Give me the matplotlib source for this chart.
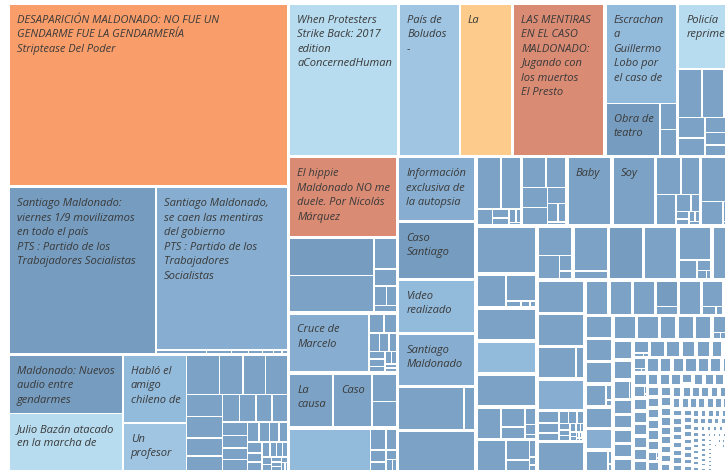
import matplotlib
matplotlib.use("Agg")
import matplotlib.pyplot as plt
from matplotlib.patches import Rectangle

# ---------------- data (sizes) ----------------
g_striptease = [50600]
g_pts = [24390, 21440, 180, 90, 60, 50, 40, 30, 20]
g_mixed = [6640, 6580, 4350, 3050, 1300, 930, 880, 880, 800, 770, 670, 530, 460,
           450, 440, 430, 340, 320, 290, 280, 230, 215, 190, 170, 160, 135, 125,
           115, 100, 90, 80, 70, 60, 50, 45, 40, 35, 28, 22]
g_concerned = [16575]
g_boludos = [9300, 7950]
g_presto = [13950]
g_escrache = [7200, 2900, 450, 450]
g_policia = [4400, 1150, 1100, 1050, 550, 480, 420, 350, 300, 250, 150, 110]
g_hippie = [8700]
g_a = [3200, 3200, 700, 400, 250, 200, 150]
g_cruce = [4800, 300, 250, 200, 180, 150, 130, 120, 100, 80, 70, 50, 50]
g_causa = [2400, 2150, 700, 650]
g_bottom = [3550, 330, 240, 190, 140, 110, 80, 50]
g_info = [4970]
g_caso = [4470]
g_video = [4160]
g_santiago = [4080]
g_b1 = [2900, 490]
g_b2 = [3160]
g_r1 = [1320, 1055, 265, 160, 125, 95, 65, 30]
g_r2 = [740, 635, 530, 475, 315, 210, 160, 60]
g_baby = [3080]
g_soy = [2960]
g_r5 = [950, 740, 635, 265, 160, 105, 85, 65, 50, 40]
g_r6 = [1160, 845, 530, 315, 160, 85]

c_striptease = ['O']
c_pts = ['D', 'M']
c_mixed = ['D', 'L', 'Q', 'P']
c_concerned = ['L']
c_boludos = ['P', 'Y']
c_presto = ['S']
c_escrache = ['Q', 'D']
c_policia = ['L']
c_hippie = ['S']
c_a = ['D', 'B']
c_cruce = ['M']
c_causa = ['B', 'B']
c_bottom = ['Q']
c_info = ['M']
c_caso = ['D']
c_video = ['Q']
c_santiago = ['M']

l_striptease = ["DESAPARICIÓN MALDONADO: NO FUE UN\nGENDARME FUE LA GENDARMERÍA\nStriptease Del Poder"]
l_pts = ["Santiago Maldonado:\nviernes 1/9 movilizamos\nen todo el país\nPTS : Partido de los\nTrabajadores Socialistas",
         "Santiago Maldonado,\nse caen las mentiras\ndel gobierno\nPTS : Partido de los\nTrabajadores\nSocialistas"]
l_mixed = ["Maldonado: Nuevos\naudio entre\ngendarmes", "Julio Bazán atacado\nen la marcha de",
           "Habló el\namigo\nchileno de", "Un\nprofesor"]
l_concerned = ["When Protesters\nStrike Back: 2017\nedition\naConcernedHuman"]
l_boludos = ["País de\nBoludos\n-", "La"]
l_presto = ["LAS MENTIRAS\nEN EL CASO\nMALDONADO:\nJugando con\nlos muertos\nEl Presto"]
l_escrache = ["Escrachan\na\nGuillermo\nLobo por\nel caso de", "Obra de\nteatro"]
l_policia = ["Policía\nreprime"]
l_hippie = ["El hippie\nMaldonado NO me\nduele. Por Nicolás\nMárquez"]
l_cruce = ["Cruce de\nMarcelo"]
l_causa = ["La\ncausa", "Caso"]
l_info = ["Información\nexclusiva de\nla autopsia"]
l_caso = ["Caso\nSantiago"]
l_video = ["Video\nrealizado"]
l_santiago = ["Santiago\nMaldonado"]
l_baby = ["Baby"]
l_soy = ["Soy"]

tail_s6 = [[2900], [1000, 850, 100, 60, 40], [2000], [1990], [1980],
           [800, 500, 300, 200, 120, 50], [950, 500, 280, 120, 60, 40]]
tail_s7 = [[1050, 530, 210, 110], [1580, 290], [1850], [1830],
           [1150, 370, 160, 85, 45], [1790]]
tail_s8 = [[1580], [1550], [1260, 260], [1490],
           [260, 220, 175, 130, 110, 90, 82, 72, 60, 55, 44, 35, 28, 28, 18, 18, 13, 9, 9, 4],
           [1420]]
tail_s9 = [[830], [820], [810], [620, 180], [790], [600, 120, 60], [770]]
tail_s10 = [[640], [630], [620], [480, 100, 40], [600], [590], [500, 60, 30], [570], [560]]
tail_s11 = [[430], [425], [420], [300, 60, 40, 15, 5], [410], [405], [400], [330, 60]]
tail_s12 = [[300], [295], [290], [285], [280], [220, 40, 20], [275], [270], [265], [260]]
tail_s13 = [[205], [200], [198], [150, 30, 15], [195], [192], [190], [188], [185]]
tail_s13b = [[183], [182], [181], [180], [150, 20, 8], [178], [177], [176], [175], [174]]
tail_s14 = [[155], [152], [150], [148], [120, 20, 6], [145], [143], [140], [138], [136]]
tail_s14b = [[134], [133], [132], [131], [130], [129], [100, 20, 8], [127], [126], [125]]
tail_s15 = [[118], [116], [114], [112], [110], [108], [90, 12, 4], [106], [104], [102]]
tail_s15b = [[101], [100], [99], [99], [98], [97], [97], [96], [95], [95]]
tail_small = [92, 90, 89, 88, 86, 85, 84, 82, 81, 80, 79, 78,
              72, 71, 70, 69, 68, 67, 66, 65, 64, 63, 62, 61,
              56, 55, 55, 54, 53, 53, 52, 51, 50, 50, 49, 48, 48, 47,
              44, 43, 43, 42, 42, 41, 41, 40, 40, 39, 39, 38, 38, 37, 37, 36,
              34, 33, 33, 32, 32, 31, 31, 30, 30, 29, 29, 29, 28, 28, 27, 27, 26, 26,
              25, 25, 24, 24, 24, 23, 23, 23, 22, 22, 22, 21, 21, 21, 20, 20, 20, 19, 19, 19, 18, 18,
              17, 17, 17, 16, 16, 16, 16, 15, 15, 15, 15, 14, 14, 14, 14, 13, 13, 13, 13, 12, 12, 12, 12, 11, 11, 11,
              11, 10, 10, 10, 10, 10, 9, 9, 9, 9, 9, 9, 8, 8, 8, 8, 8, 8, 7, 7, 7, 7, 7, 7, 6, 6, 6, 6, 6, 6,
              5, 5, 5, 5, 5, 5, 5, 5, 5, 5, 4, 4, 4, 4, 4, 4, 4, 4, 4, 4,
              3, 3, 3, 3, 3, 3, 3, 3, 3, 3, 2, 2, 2, 2, 2, 2, 2, 2, 2, 2]

PALETTE = {'O': '#F99E6B', 'S': '#D98B74', 'Y': '#FDCB8B', 'L': '#B7DCEF',
           'P': '#9FC5E3', 'Q': '#92BADB', 'M': '#87AED0', 'B': '#7CA3C6',
           'D': '#769DC0'}

# ---------------- assemble groups ----------------
head = [
    (g_striptease, c_striptease, l_striptease),
    (g_pts, c_pts, l_pts),
    (g_mixed, c_mixed, l_mixed),
    (g_concerned, c_concerned, l_concerned),
    (g_boludos, c_boludos, l_boludos),
    (g_presto, c_presto, l_presto),
    (g_escrache, c_escrache, l_escrache),
    (g_policia, c_policia, l_policia),
    (g_hippie, c_hippie, l_hippie),
    (g_a, c_a, []),
    (g_cruce, c_cruce, l_cruce),
    (g_causa, c_causa, l_causa),
    (g_bottom, c_bottom, []),
    (g_info, c_info, l_info),
    (g_caso, c_caso, l_caso),
    (g_video, c_video, l_video),
    (g_santiago, c_santiago, l_santiago),
    (g_b1, [], []),
    (g_b2, [], []),
    (g_r1, [], []),
    (g_r2, [], []),
    (g_baby, [], l_baby),
    (g_soy, [], l_soy),
    (g_r5, [], []),
    (g_r6, [], []),
]
groups = list(head)
for band in [tail_s6, tail_s7, tail_s8, tail_s9, tail_s10, tail_s11, tail_s12,
             tail_s13, tail_s13b, tail_s14, tail_s14b, tail_s15, tail_s15b]:
    for g in band:
        groups.append((g, [], []))
for v in tail_small:
    groups.append(([v], [], []))
# a few tail tiles with a slightly different shade
TAIL_SHADE = {len(head) + 3: 'Q', len(head) + 9: 'D', len(head) + 16: 'M',
              len(head) + 22: 'D', len(head) + 31: 'M'}


# ---------------- squarified layout (Tableau-like strip rule) ----------------
def worst(row, side):
    s = sum(row)
    t = s / side
    r = 1.0
    for a in row:
        l = a / t
        r = max(r, t / l, l / t)
    return r


def squarify(values, x, y, w, h, cap=3.0):
    total = float(sum(values))
    areas = [v * w * h / total for v in values]
    out = []
    i, n = 0, len(areas)
    while i < n:
        side = min(w, h)
        row = [areas[i]]
        wr = worst(row, side)
        j = i + 1
        while j < n:
            cand = row + [areas[j]]
            nw = worst(cand, side)
            if nw <= wr:
                row, wr = cand, nw
                j += 1
            else:
                if nw <= cap:
                    row = cand
                    j += 1
                break
        t = sum(row) / side
        if w >= h:
            yy = y
            for a in row:
                hh = a / t
                out.append((x, yy, t, hh))
                yy += hh
            x += t
            w -= t
        else:
            xx = x
            for a in row:
                ww = a / t
                out.append((xx, y, ww, t))
                xx += ww
            y += t
            h -= t
        i = j
    return out


# ---------------- draw ----------------
W_PX, H_PX = 725, 472
fig = plt.figure(figsize=(W_PX / 100, H_PX / 100), dpi=100)
ax = fig.add_axes([0, 0, 1, 1])
ax.set_xlim(0, W_PX)
ax.set_ylim(H_PX, 0)
ax.axis('off')

X0, Y0, X1, Y1 = 8.25, 3.25, 746.0, 471.75
GPAD, IPAD = 1.0, 0.75
FONT = ['Open Sans', 'DejaVu Sans']
FS = 8.0
TXT = '#3a3a3a'

group_rects = squarify([sum(g[0]) for g in groups], X0, Y0, X1 - X0, Y1 - Y0)
for gi, ((vals, cols, labs), (gx, gy, gw, gh)) in enumerate(zip(groups, group_rects)):
    gx, gy, gw, gh = gx + GPAD, gy + GPAD, gw - 2 * GPAD, gh - 2 * GPAD
    if gw <= 0 or gh <= 0:
        continue
    item_rects = squarify(vals, gx, gy, gw, gh)
    for k, (ix, iy, iw, ih) in enumerate(item_rects):
        ix, iy, iw, ih = ix + IPAD, iy + IPAD, iw - 2 * IPAD, ih - 2 * IPAD
        if iw <= 0.2 or ih <= 0.2:
            continue
        if k < len(cols):
            code = cols[k]
        else:
            code = TAIL_SHADE.get(gi, 'B') if k == 0 else 'B'
        patch = Rectangle((ix, iy), iw, ih, facecolor=PALETTE[code],
                          edgecolor='none', linewidth=0)
        ax.add_patch(patch)
        if k < len(labs) and labs[k]:
            for ln, line in enumerate(labs[k].split('\n')):
                t = ax.text(ix + 7, iy + 17.7 + 14.5 * ln, line, ha='left',
                            va='baseline', fontsize=FS, fontstyle='italic',
                            family=FONT, color=TXT)
                t.set_clip_path(patch)

fig.savefig('out.png', dpi=100, facecolor='white')
